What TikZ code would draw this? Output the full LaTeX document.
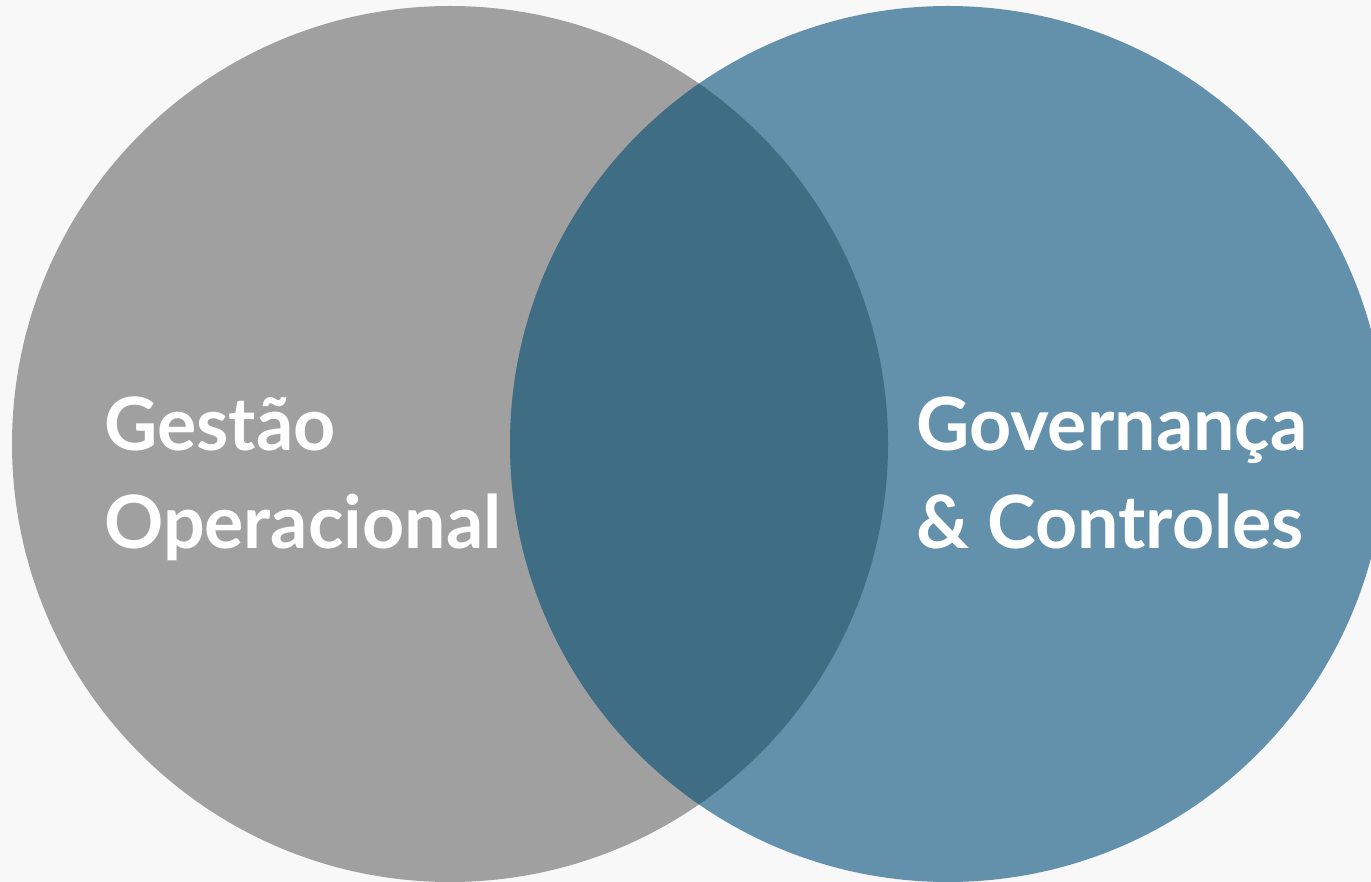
\documentclass[tikz,border=0pt]{standalone}
\usepackage{fontspec}
\setmainfont{Lato}[BoldFont={Lato Bold}]
\definecolor{bgc}{HTML}{F8F8F8}
\definecolor{grayc}{HTML}{A0A0A0}
\definecolor{bluec}{HTML}{6390AA}
\definecolor{darkc}{HTML}{3F6D84}
\tikzset{
  lbl/.style={text=white, font=\bfseries\fontsize{73.5}{98}\selectfont, align=left, anchor=base west, inner sep=0pt}
}
\begin{document}
\begin{tikzpicture}[x=1pt,y=-1pt]
\useasboundingbox (0,0) rectangle (1371,882);
\fill[bgc] (0,0) rectangle (1371,882);
\begin{scope}
\clip (0,0) rectangle (1371,882);
\fill[grayc] (450,444) circle[radius=438];
\fill[bluec] (948,444) circle[radius=438];
\clip (450,444) circle[radius=438];
\fill[darkc] (948,444) circle[radius=438];
\end{scope}
\node[lbl] (left) at (104,548) {Gestão\\Operacional};
\node[lbl] (right) at (916,548) {Governança\\\& Controles};
\end{tikzpicture}
\end{document}
